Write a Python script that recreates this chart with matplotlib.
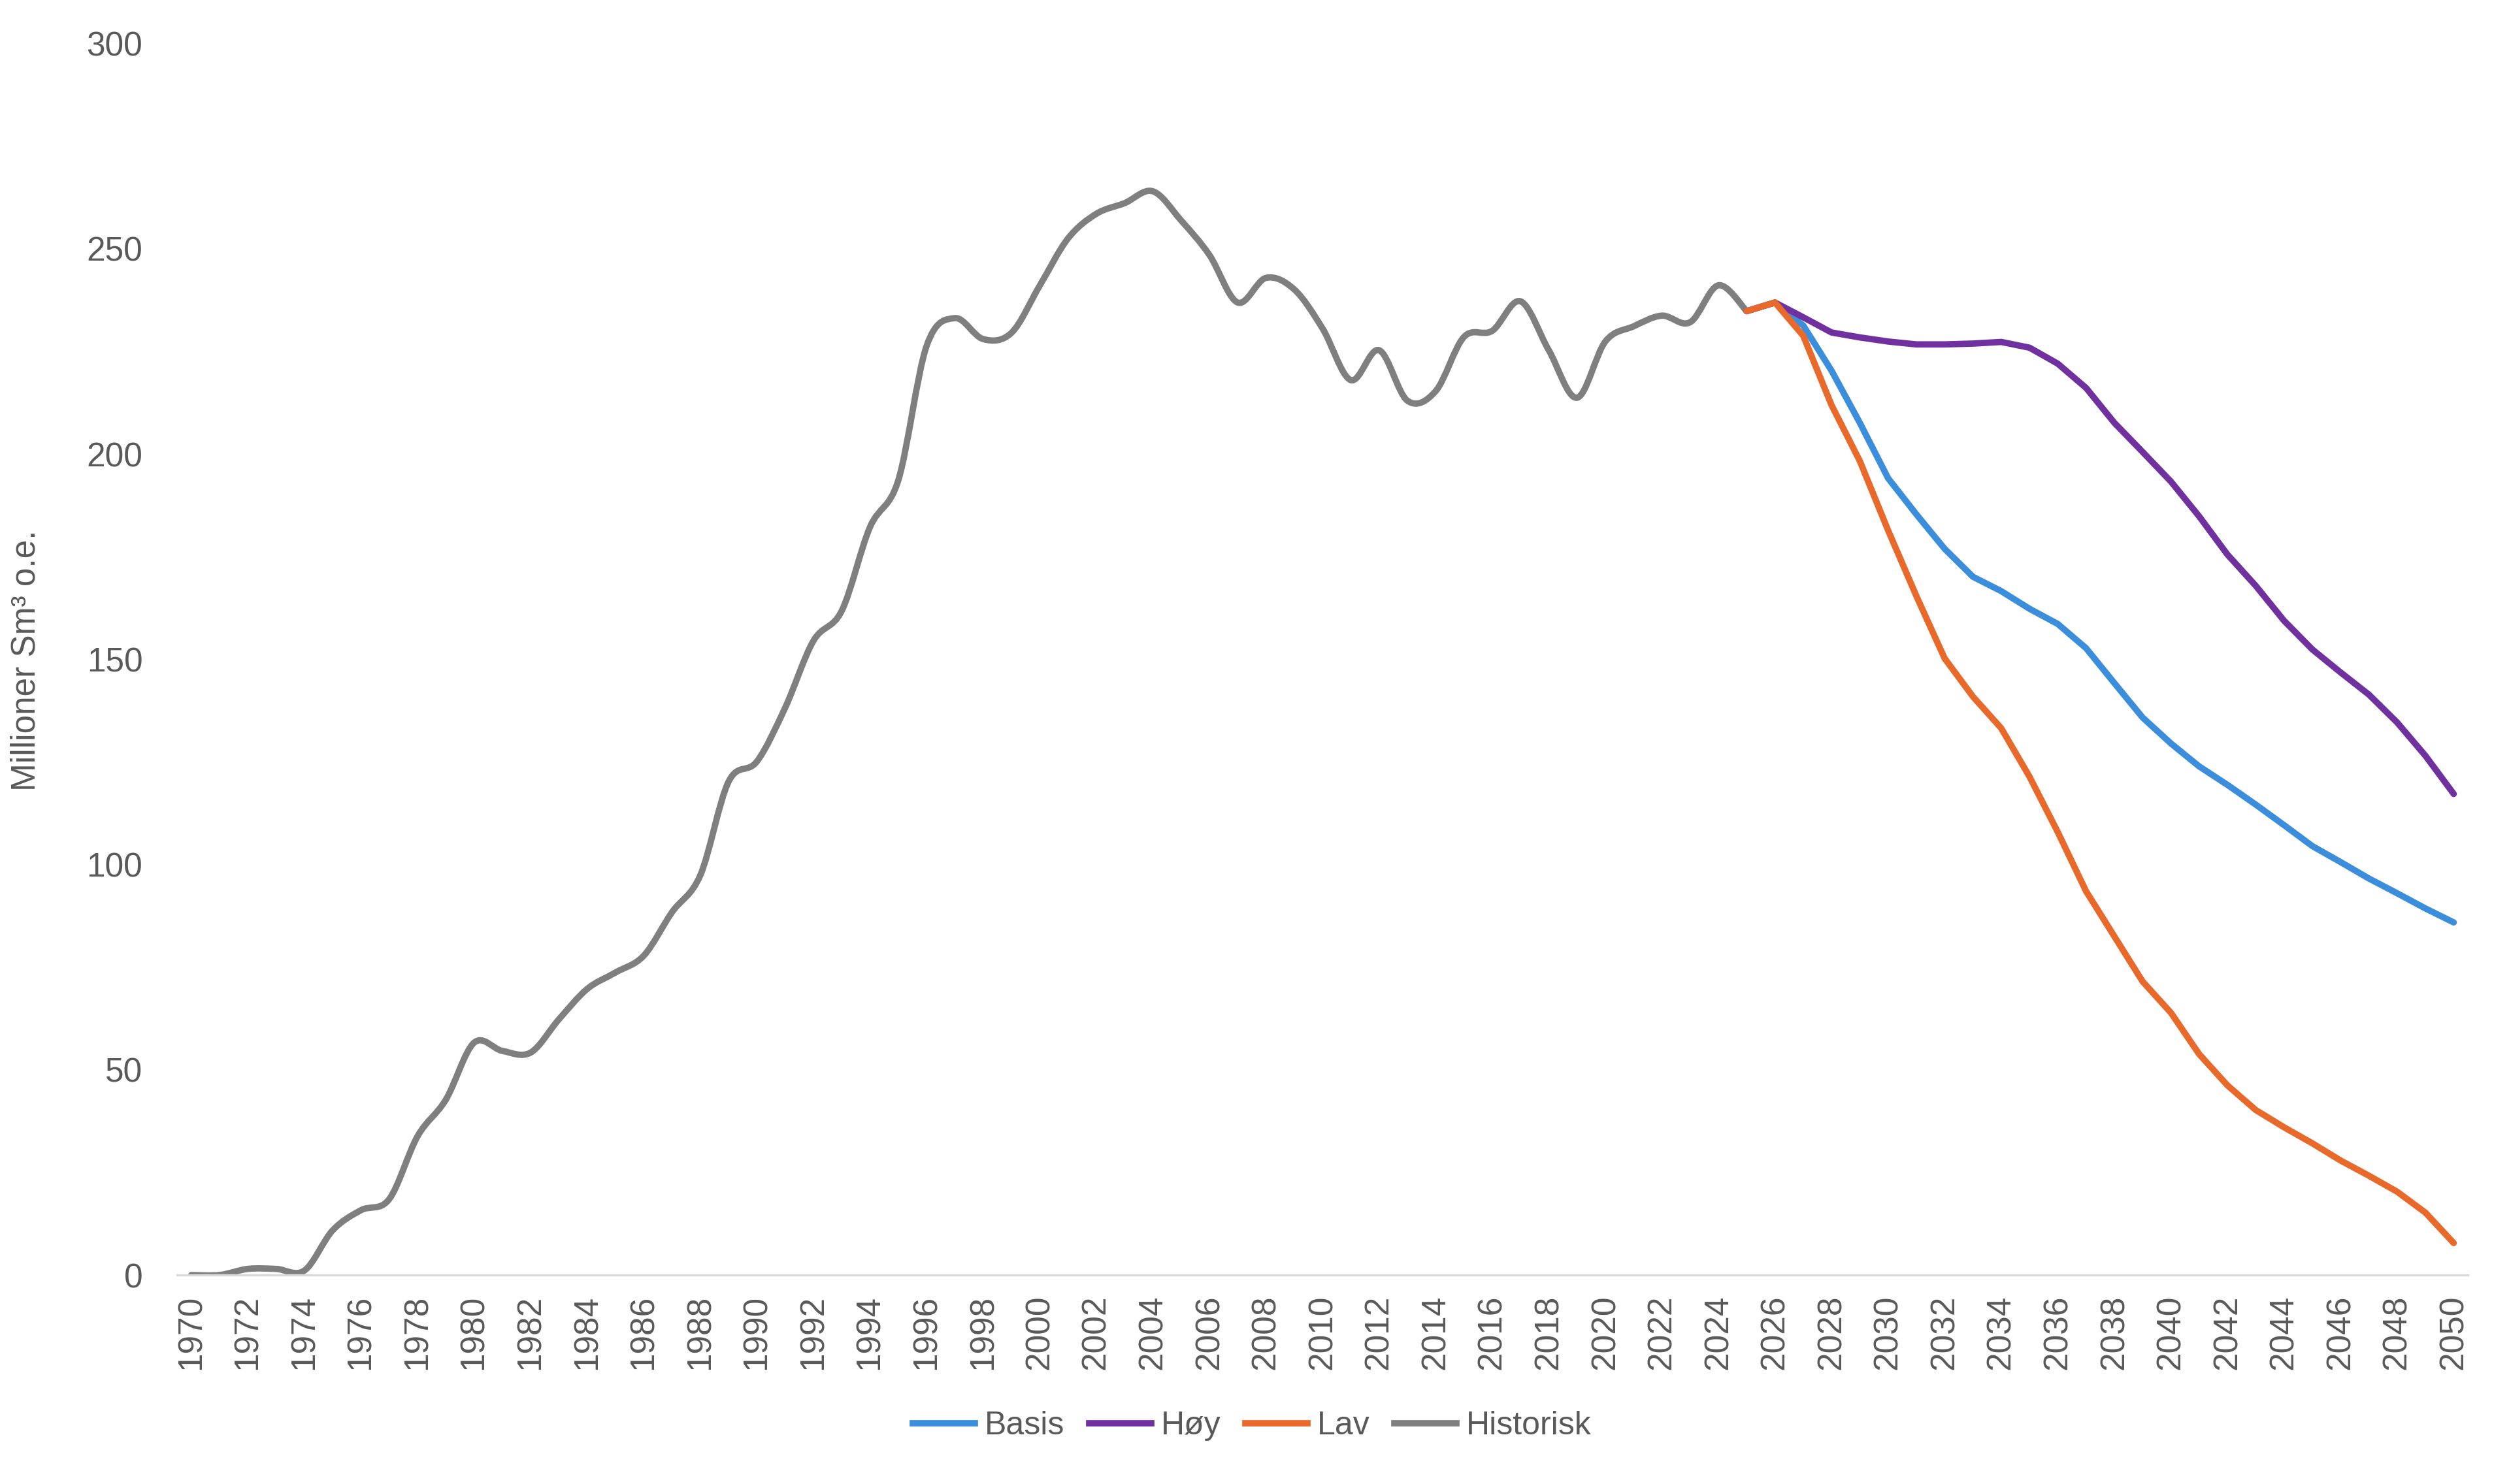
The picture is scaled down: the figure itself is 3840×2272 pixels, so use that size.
import matplotlib
matplotlib.use("Agg")
import matplotlib.pyplot as plt
import numpy as np
from matplotlib.path import Path
from matplotlib.patches import PathPatch
from matplotlib.lines import Line2D

plt.rcParams['font.family'] = ['Liberation Sans', 'DejaVu Sans']

# historical production, 1970-2025
hist_years = list(range(1970, 2026))
hist_vals = [0, 0, 1.5, 1.5, 1.1, 10.9, 15.8, 18.5, 33.8, 42.7,
             56.6, 54.6, 54.2, 62.3, 69.7, 73.7, 77.8, 88.4, 97.4, 120.2,
             125.1, 138.2, 154.5, 161.8, 182.2, 193.6, 226.3, 233.1, 228.0, 229.5,
             241.0, 252.5, 258.5, 261.1, 264.0, 256.9, 248.5, 236.9, 242.9, 240.1,
             230.6, 218.0, 225.3, 213.0, 215.3, 228.5, 230.0, 237.2, 225.3, 213.7,
             227.4, 231.1, 233.7, 232.1, 241.1, 234.8]

# scenarios, 2025-2050
scen_years = list(range(2025, 2051))
basis = [234.8, 236.9, 231.3, 220.3, 207.6, 194.1, 185.3, 176.9, 170.1, 166.6,
         162.3, 158.6, 152.7, 144.2, 135.8, 129.5, 123.9, 119.4, 114.6, 109.6,
         104.5, 100.6, 96.6, 93.0, 89.3, 85.9]
hoy = [234.8, 236.9, 233.3, 229.6, 228.4, 227.4, 226.7, 226.7, 226.9, 227.3,
       225.9, 222.0, 216.1, 207.6, 200.5, 193.3, 184.8, 175.5, 167.9, 159.4,
       152.4, 146.8, 141.4, 134.6, 126.5, 117.2]
lav = [234.8, 236.9, 228.8, 211.9, 198.3, 181.4, 165.4, 150.2, 140.9, 133.2,
       121.4, 107.9, 93.5, 82.5, 71.5, 63.9, 53.8, 46.2, 40.2, 36.0,
       32.1, 27.9, 24.2, 20.3, 15.2, 7.8]

c_basis = "#3B8EDC"
c_hoy = "#7030A0"
c_lav = "#E8692A"
c_hist = "#7F7F7F"
c_text = "#595959"
lw = 7


def smooth_path(xs, ys):
    # excel-like smoothed line: cubic bezier through every point
    p = np.column_stack([xs, ys]).astype(float)
    ext = np.vstack([p[0], p, p[-1]])
    verts = [p[0]]
    codes = [Path.MOVETO]
    for i in range(len(p) - 1):
        a, b, c, d = ext[i], ext[i + 1], ext[i + 2], ext[i + 3]
        verts += [b + (c - a) / 6.0, c - (d - b) / 6.0, c]
        codes += [Path.CURVE4] * 3
    return Path(verts, codes)


fig = plt.figure(figsize=(38.4, 22.72), dpi=100)
ax = fig.add_axes([0.0706, 0.1408, 0.9130, 0.8299])

ax.plot(scen_years, basis, color=c_basis, lw=lw, solid_joinstyle='round', solid_capstyle='round')
ax.plot(scen_years, hoy, color=c_hoy, lw=lw, solid_joinstyle='round', solid_capstyle='round')
ax.plot(scen_years, lav, color=c_lav, lw=lw, solid_joinstyle='round', solid_capstyle='round')
ax.add_patch(PathPatch(smooth_path(hist_years, hist_vals), facecolor='none',
                       edgecolor=c_hist, lw=lw, capstyle='round', joinstyle='round'))

ax.set_xlim(1969.5, 2050.5)
ax.set_ylim(0, 300)
ax.set_xticks(range(1970, 2051, 2))
ax.set_xticklabels([str(y) for y in range(1970, 2051, 2)], rotation=90)
ax.set_yticks(range(0, 301, 50))
ax.tick_params(axis='both', length=0, colors=c_text, labelsize=37)
ax.tick_params(axis='y', pad=38)
ax.tick_params(axis='x', pad=22)
for s in ['top', 'right', 'left']:
    ax.spines[s].set_visible(False)
ax.spines['bottom'].set_color("#D9D9D9")
ax.spines['bottom'].set_linewidth(2.5)

fig.text(0.0105, 0.555, "Millioner Sm³ o.e.", rotation=90, ha='center', va='center',
         fontsize=37, color=c_text)

handles = [Line2D([], [], color=c, lw=lw) for c in [c_basis, c_hoy, c_lav, c_hist]]
fig.legend(handles, ["Basis", "Høy", "Lav", "Historisk"], loc='center',
           bbox_to_anchor=(0.499, 0.039), ncol=4, frameon=False, fontsize=36,
           handlelength=1.9, handletextpad=0.3, columnspacing=0.75, labelcolor=c_text)

fig.savefig("out.png", dpi=100)
